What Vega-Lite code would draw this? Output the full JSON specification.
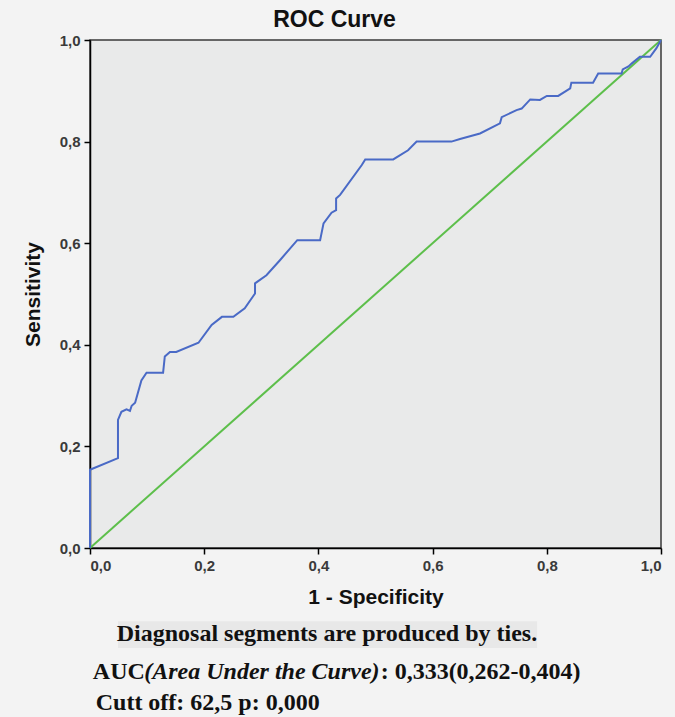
{
  "$schema": "https://vega.github.io/schema/vega-lite/v6.json",
  "width": 571,
  "height": 508,
  "autosize": {"type": "none"},
  "padding": {"left": 90, "top": 40, "right": 14, "bottom": 169},
  "background": "#f3f3f3",
  "title": {"text": "ROC Curve", "font": "Liberation Sans", "fontSize": 23, "fontWeight": "bold", "color": "#111111", "anchor": "middle", "frame": "group", "dx": -41, "offset": 1},
  "config": {
    "view": {"fill": "#e9eaea", "stroke": "#3a3a3a", "strokeWidth": 1.5},
    "axis": {
      "grid": false,
      "domainColor": "#000000",
      "domainWidth": 1.5,
      "tickColor": "#000000",
      "tickWidth": 1.5,
      "tickSize": 6,
      "labelFont": "Liberation Sans",
      "labelFontSize": 15,
      "labelFontWeight": "bold",
      "labelColor": "#3a3a3a",
      "titleFont": "Liberation Sans",
      "titleFontSize": 21,
      "titleFontWeight": "bold",
      "titleColor": "#111111"
    }
  },
  "datasets": {
    "roc": [
      {"i": 0, "fpr": 0, "tpr": 0},
      {"i": 1, "fpr": 0, "tpr": 0.154},
      {"i": 2, "fpr": 0.049, "tpr": 0.177},
      {"i": 3, "fpr": 0.049, "tpr": 0.252},
      {"i": 4, "fpr": 0.055, "tpr": 0.268},
      {"i": 5, "fpr": 0.064, "tpr": 0.273},
      {"i": 6, "fpr": 0.07, "tpr": 0.27},
      {"i": 7, "fpr": 0.073, "tpr": 0.28},
      {"i": 8, "fpr": 0.079, "tpr": 0.286},
      {"i": 9, "fpr": 0.09, "tpr": 0.33},
      {"i": 10, "fpr": 0.099, "tpr": 0.345},
      {"i": 11, "fpr": 0.128, "tpr": 0.345},
      {"i": 12, "fpr": 0.131, "tpr": 0.377},
      {"i": 13, "fpr": 0.14, "tpr": 0.386},
      {"i": 14, "fpr": 0.151, "tpr": 0.386},
      {"i": 15, "fpr": 0.19, "tpr": 0.404},
      {"i": 16, "fpr": 0.213, "tpr": 0.439},
      {"i": 17, "fpr": 0.231, "tpr": 0.455},
      {"i": 18, "fpr": 0.251, "tpr": 0.455},
      {"i": 19, "fpr": 0.271, "tpr": 0.472},
      {"i": 20, "fpr": 0.289, "tpr": 0.501},
      {"i": 21, "fpr": 0.289, "tpr": 0.521},
      {"i": 22, "fpr": 0.309, "tpr": 0.537},
      {"i": 23, "fpr": 0.333, "tpr": 0.567},
      {"i": 24, "fpr": 0.363, "tpr": 0.606},
      {"i": 25, "fpr": 0.403, "tpr": 0.606},
      {"i": 26, "fpr": 0.409, "tpr": 0.639},
      {"i": 27, "fpr": 0.423, "tpr": 0.66},
      {"i": 28, "fpr": 0.431, "tpr": 0.665},
      {"i": 29, "fpr": 0.431, "tpr": 0.688},
      {"i": 30, "fpr": 0.438, "tpr": 0.695},
      {"i": 31, "fpr": 0.476, "tpr": 0.754},
      {"i": 32, "fpr": 0.482, "tpr": 0.765},
      {"i": 33, "fpr": 0.531, "tpr": 0.765},
      {"i": 34, "fpr": 0.557, "tpr": 0.783},
      {"i": 35, "fpr": 0.572, "tpr": 0.8},
      {"i": 36, "fpr": 0.633, "tpr": 0.8},
      {"i": 37, "fpr": 0.648, "tpr": 0.805},
      {"i": 38, "fpr": 0.683, "tpr": 0.816},
      {"i": 39, "fpr": 0.718, "tpr": 0.836},
      {"i": 40, "fpr": 0.721, "tpr": 0.848},
      {"i": 41, "fpr": 0.747, "tpr": 0.862},
      {"i": 42, "fpr": 0.756, "tpr": 0.865},
      {"i": 43, "fpr": 0.771, "tpr": 0.883},
      {"i": 44, "fpr": 0.788, "tpr": 0.882},
      {"i": 45, "fpr": 0.8, "tpr": 0.89},
      {"i": 46, "fpr": 0.82, "tpr": 0.89},
      {"i": 47, "fpr": 0.841, "tpr": 0.905},
      {"i": 48, "fpr": 0.843, "tpr": 0.916},
      {"i": 49, "fpr": 0.881, "tpr": 0.916},
      {"i": 50, "fpr": 0.89, "tpr": 0.934},
      {"i": 51, "fpr": 0.931, "tpr": 0.934},
      {"i": 52, "fpr": 0.933, "tpr": 0.942},
      {"i": 53, "fpr": 0.943, "tpr": 0.948},
      {"i": 54, "fpr": 0.949, "tpr": 0.954},
      {"i": 55, "fpr": 0.963, "tpr": 0.967},
      {"i": 56, "fpr": 0.981, "tpr": 0.967},
      {"i": 57, "fpr": 0.992, "tpr": 0.984},
      {"i": 58, "fpr": 1, "tpr": 1}
    ],
    "diag": [
      {"i": 0, "fpr": 0, "tpr": 0},
      {"i": 1, "fpr": 1, "tpr": 1}
    ]
  },
  "layer": [
    {
      "data": {"name": "diag"},
      "mark": {"type": "line", "color": "#5dbf4b", "strokeWidth": 2},
      "encoding": {
        "x": {"field": "fpr", "type": "quantitative", "scale": {"domain": [0, 1], "nice": false, "zero": false},
              "axis": {"values": [0, 0.2, 0.4, 0.6, 0.8, 1], "title": "1 - Specificity", "labelPadding": 4, "titlePadding": 13,
                       "labelExpr": "replace(format(datum.value, '.1f'), '.', ',')"}},
        "y": {"field": "tpr", "type": "quantitative", "scale": {"domain": [0, 1], "nice": false, "zero": false},
              "axis": {"values": [0, 0.2, 0.4, 0.6, 0.8, 1], "title": "Sensitivity", "labelPadding": 4, "titlePadding": 16,
                       "labelExpr": "replace(format(datum.value, '.1f'), '.', ',')"}},
        "order": {"field": "i", "type": "quantitative"}
      }
    },
    {
      "data": {"name": "roc"},
      "mark": {"type": "line", "color": "#4a6ac6", "strokeWidth": 2},
      "encoding": {
        "x": {"field": "fpr", "type": "quantitative", "scale": {"domain": [0, 1]}},
        "y": {"field": "tpr", "type": "quantitative", "scale": {"domain": [0, 1]}},
        "order": {"field": "i", "type": "quantitative"}
      }
    },
    {
      "data": {"values": [{"note": "box"}]},
      "mark": {"type": "rect", "color": "#e8e8e8"},
      "encoding": {
        "x": {"datum": 0.049, "type": "quantitative", "scale": {"domain": [0, 1]}},
        "x2": {"datum": 0.783},
        "y": {"datum": -0.144, "type": "quantitative", "scale": {"domain": [0, 1]}},
        "y2": {"datum": -0.197}
      }
    },
    {
      "data": {"values": [{"t": "Diagnosal segments are produced by ties."}]},
      "mark": {"type": "text", "font": "Liberation Serif", "fontWeight": "bold", "fontSize": 24, "color": "#111111", "align": "center", "baseline": "middle"},
      "encoding": {
        "x": {"datum": 0.415, "type": "quantitative", "scale": {"domain": [0, 1]}},
        "y": {"datum": -0.169, "type": "quantitative", "scale": {"domain": [0, 1]}},
        "text": {"field": "t"}
      }
    },
    {
      "data": {"values": [{"t": "AUC"}]},
      "mark": {"type": "text", "font": "Liberation Serif", "fontWeight": "bold", "fontSize": 24, "color": "#111111", "align": "left", "baseline": "middle"},
      "encoding": {
        "x": {"datum": 0.005, "type": "quantitative", "scale": {"domain": [0, 1]}},
        "y": {"datum": -0.244, "type": "quantitative", "scale": {"domain": [0, 1]}},
        "text": {"field": "t"}
      }
    },
    {
      "data": {"values": [{"t": "(Area Under the Curve)"}]},
      "mark": {"type": "text", "font": "Liberation Serif", "fontWeight": "bold", "fontStyle": "italic", "fontSize": 24, "color": "#111111", "align": "left", "baseline": "middle"},
      "encoding": {
        "x": {"datum": 0.095, "type": "quantitative", "scale": {"domain": [0, 1]}},
        "y": {"datum": -0.244, "type": "quantitative", "scale": {"domain": [0, 1]}},
        "text": {"field": "t"}
      }
    },
    {
      "data": {"values": [{"t": ": 0,333(0,262-0,404)"}]},
      "mark": {"type": "text", "font": "Liberation Serif", "fontWeight": "bold", "fontSize": 24, "color": "#111111", "align": "left", "baseline": "middle"},
      "encoding": {
        "x": {"datum": 0.509, "type": "quantitative", "scale": {"domain": [0, 1]}},
        "y": {"datum": -0.244, "type": "quantitative", "scale": {"domain": [0, 1]}},
        "text": {"field": "t"}
      }
    },
    {
      "data": {"values": [{"t": "Cutt off: 62,5 p: 0,000"}]},
      "mark": {"type": "text", "font": "Liberation Serif", "fontWeight": "bold", "fontSize": 24, "color": "#111111", "align": "left", "baseline": "middle"},
      "encoding": {
        "x": {"datum": 0.01, "type": "quantitative", "scale": {"domain": [0, 1]}},
        "y": {"datum": -0.305, "type": "quantitative", "scale": {"domain": [0, 1]}},
        "text": {"field": "t"}
      }
    }
  ]
}
